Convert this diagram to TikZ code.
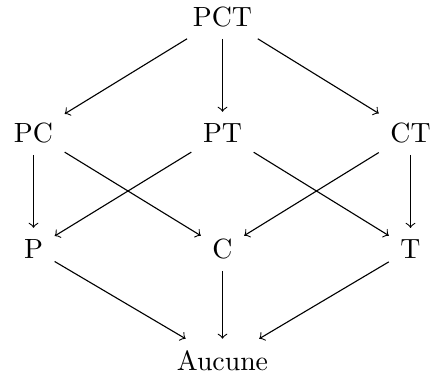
\documentclass[tikz,border=0pt]{standalone}
\begin{document}
\begin{tikzpicture}[x=0.3597pt,y=-0.3597pt,
  lbl/.style={inner sep=4pt,font=\normalsize},
  arr/.style={->,line width=0.4pt}]
\useasboundingbox (0,0) rectangle (430,383);
\node[lbl] (pct) at (222.5,17) {PCT};
\node[lbl] (pc) at (33.5,133) {PC};
\node[lbl] (pt) at (222.5,133) {PT};
\node[lbl] (ct) at (410.5,133) {CT};
\node[lbl] (p) at (33.5,249) {P};
\node[lbl] (c) at (222.5,249) {C};
\node[lbl] (t) at (410.5,249) {T};
\node[lbl] (a) at (222.5,360.5) {Aucune};
\draw[arr] (pct) -- (pc);
\draw[arr] (pct) -- (pt);
\draw[arr] (pct) -- (ct);
\draw[arr] (pc) -- (p);
\draw[arr] (pc) -- (c);
\draw[arr] (pt) -- (p);
\draw[arr] (pt) -- (t);
\draw[arr] (ct) -- (c);
\draw[arr] (ct) -- (t);
\draw[arr] (p) -- (a);
\draw[arr] (c) -- (a);
\draw[arr] (t) -- (a);
\end{tikzpicture}
\end{document}
